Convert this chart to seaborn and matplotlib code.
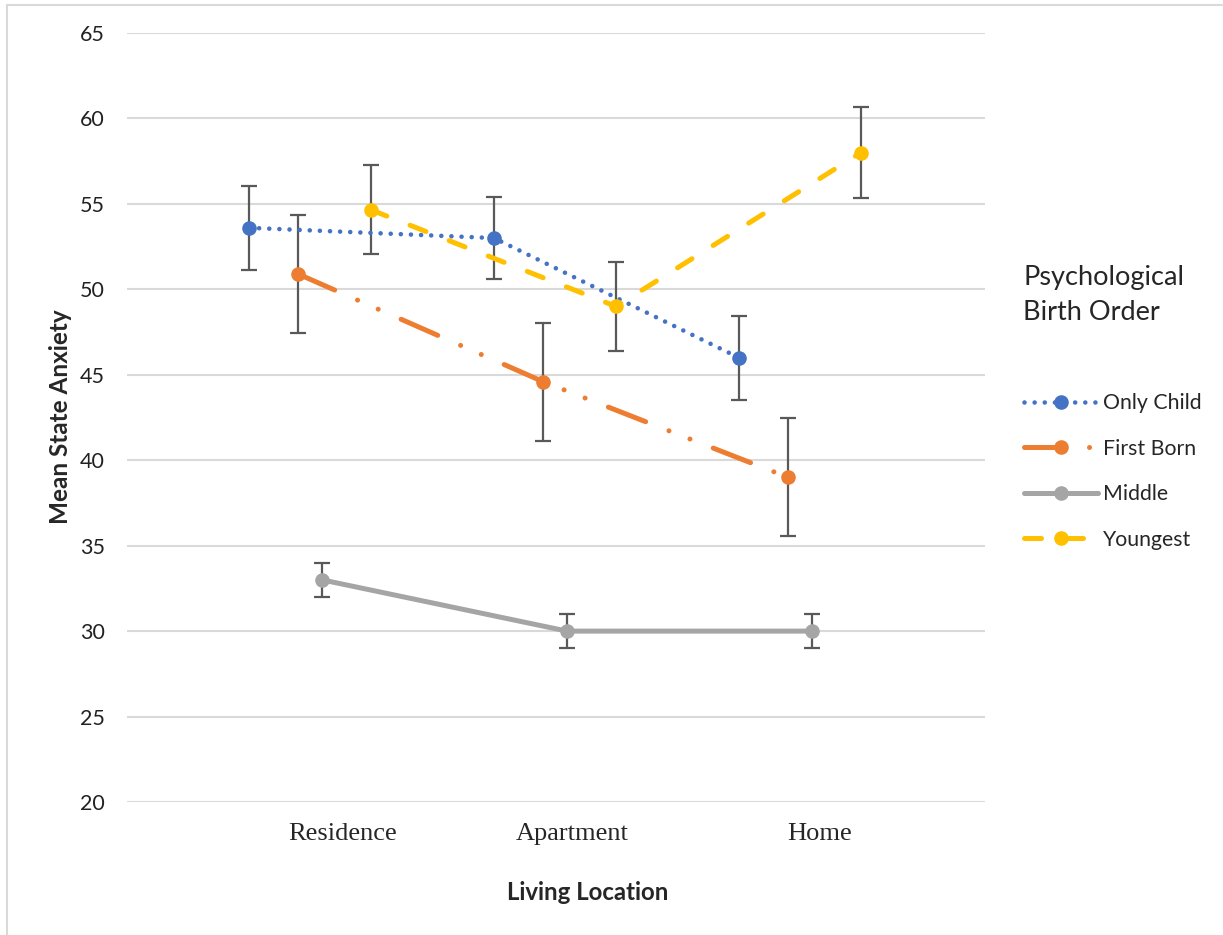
import numpy as np
import pandas as pd
import matplotlib
matplotlib.use("Agg")
import matplotlib.pyplot as plt
from matplotlib.lines import Line2D
import seaborn as sns

# ---- data ----
locations = ["Residence", "Apartment", "Home"]
series = ["Only Child", "First Born", "Middle", "Youngest"]
only_child = [53.6, 53.0, 46.0]
only_child_err = [2.45, 2.4, 2.45]
first_born = [50.9, 44.6, 39.0]
first_born_err = [3.45, 3.45, 3.45]
middle = [33.0, 30.0, 30.0]
middle_err = [1.0, 1.0, 1.0]
youngest = [54.65, 49.0, 58.0]
youngest_err = [2.6, 2.6, 2.65]

values = {"Only Child": only_child, "First Born": first_born, "Middle": middle, "Youngest": youngest}
errors = {"Only Child": only_child_err, "First Born": first_born_err, "Middle": middle_err, "Youngest": youngest_err}

# ---- style ----
colors = {"Only Child": "#4472C4", "First Born": "#ED7D31", "Middle": "#A5A5A5", "Youngest": "#FFC000"}
offsets = {"Only Child": -0.384, "First Born": -0.184, "Middle": -0.086, "Youngest": 0.114}
linestyles = {
    "Only Child": (0, (0.01, 2.2)),
    "First Born": (0, (8, 5, 0.01, 4.5, 0.01, 5)),
    "Middle": "-",
    "Youngest": (0, (3.4, 5.0)),
}
lws = {"Only Child": 3.3, "First Born": 3.6, "Middle": 3.6, "Youngest": 3.6}
tick_pos = [0.0, 0.935, 1.943]

sns.set_theme(style="white")
plt.rcParams["font.family"] = ["Lato", "DejaVu Sans"]

fig = plt.figure(figsize=(12.23, 9.35), dpi=100)
ax = fig.add_axes([127 / 1223, 1 - 802 / 935, (985 - 127) / 1223, (802 - 33) / 935])

rows = []
for s in series:
    for i, (loc, v, e) in enumerate(zip(locations, values[s], errors[s])):
        rows.append({"series": s, "idx": i, "x": i + offsets[s], "y": v, "err": e})
df = pd.DataFrame(rows)

handles = []
for s in series:
    d = df[df.series == s]
    ax.errorbar(d.x, d.y, yerr=d.err, fmt="none", ecolor="#595959", elinewidth=1.6,
                capsize=6, capthick=1.6, zorder=2)
    sns.lineplot(data=d, x="x", y="y", ax=ax, color=colors[s], lw=lws[s],
                 linestyle=linestyles[s], marker="o", markersize=10.5,
                 markeredgecolor=colors[s], markeredgewidth=0,
                 dash_capstyle="round", solid_capstyle="round", zorder=3,
                 label=s, legend=False, errorbar=None)
    handles.append(Line2D([0], [0], color=colors[s], lw=lws[s], linestyle=linestyles[s],
                          marker="o", markersize=10.5, markeredgewidth=0,
                          dash_capstyle="round", solid_capstyle="round"))

ax.set_xlim(-0.882, 2.620)
ax.set_ylim(20, 65)
ax.set_yticks(np.arange(20, 66, 5))
ax.set_xticks(tick_pos)
ax.set_xticklabels(locations, family=["Liberation Serif"], fontsize=19)
for lab in ax.get_yticklabels():
    lab.set_fontsize(15.5)
    lab.set_color("#222222")
ax.tick_params(axis="y", length=0, pad=16)
ax.tick_params(axis="x", length=0, pad=15)
ax.grid(axis="y", color="#D9D9D9", lw=1.5)
ax.grid(axis="x", visible=False)
for sp in ax.spines.values():
    sp.set_visible(False)
ax.set_xlabel("")
ax.set_ylabel("")

fig.text(588 / 1223, 1 - 893 / 935, "Living Location", ha="center", va="center",
         fontsize=17.3, fontweight="bold")
fig.text(60 / 1223, 1 - 417 / 935, "Mean State Anxiety", ha="center", va="center",
         rotation=90, fontsize=17.5, fontweight="bold")

fig.text(1023 / 1223, 1 - 295 / 935, "Psychological\nBirth Order", ha="left", va="center",
         fontsize=19.5, linespacing=1.5)

leg = fig.legend(handles, series, loc="upper left", bbox_to_anchor=(1024 / 1223, 1 - 393 / 935),
                 frameon=False, fontsize=15.3, handlelength=3.5, handletextpad=0.2,
                 labelspacing=1.2, numpoints=1, borderaxespad=0, borderpad=0)

# chart-area border (left and top only visible)
fig.add_artist(Line2D([6.5 / 1223, 6.5 / 1223], [0, 1 - 5 / 935], color="#D9D9D9", lw=1.5,
                      transform=fig.transFigure))
fig.add_artist(Line2D([6.5 / 1223, 1 - 1 / 1223], [1 - 5 / 935, 1 - 5 / 935], color="#D9D9D9",
                      lw=1.5, transform=fig.transFigure))

fig.savefig("out.png", dpi=100)
